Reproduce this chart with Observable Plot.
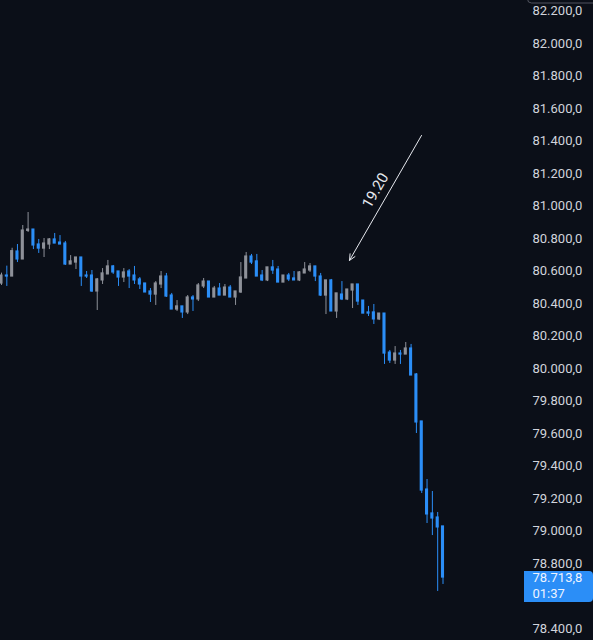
<!DOCTYPE html>
<html>
<head>
<meta charset="utf-8">
<script src="https://cdn.jsdelivr.net/npm/d3@7"></script>
<script src="https://cdn.jsdelivr.net/npm/@observablehq/plot@0.6"></script>
<style>
  html, body { margin: 0; padding: 0; background: #0b0f18; overflow: hidden; }
  #chart svg { display: block; }
</style>
</head>
<body>
<div id="chart"></div>
<script>
// ---- data ----
const open  = [80523,80572,80566,80720,80671,80847,80855,80763,80738,80763,80794,80775,80769,80640,80652,80683,80572,80572,80474,80542,80579,80628,80597,80560,80597,80572,80548,80523,80474,80455,80517,80566,80449,80363,80382,80345,80437,80425,80505,80535,80437,80492,80449,80498,80437,80468,80554,80689,80659,80572,80542,80622,80609,80529,80572,80554,80542,80585,80603,80628,80566,80449,80542,80351,80455,80425,80480,80517,80418,80345,80345,80302,80338,80098,80049,80092,80086,80123,79963,79674,79255,79108,79083,79028];
const high  = [80587,80630,80740,80763,80880,80960,80855,80794,80800,80800,80831,80818,80782,80695,80683,80683,80597,80603,80554,80615,80665,80634,80597,80615,80609,80628,80560,80523,80492,80535,80597,80585,80462,80418,80382,80449,80449,80523,80554,80535,80505,80523,80517,80511,80474,80652,80714,80702,80702,80603,80622,80665,80628,80572,80585,80597,80597,80652,80646,80628,80585,80542,80548,80462,80535,80486,80517,80517,80418,80382,80394,80338,80338,80111,80135,80111,80160,80148,79969,79674,79317,79243,79114,79028];
const low   = [80511,80505,80566,80652,80671,80837,80732,80708,80683,80732,80769,80763,80634,80640,80609,80505,80554,80468,80357,80517,80579,80579,80505,80529,80492,80517,80486,80468,80406,80388,80492,80437,80363,80351,80308,80332,80351,80412,80492,80437,80437,80449,80449,80437,80388,80462,80554,80640,80566,80535,80535,80579,80529,80529,80535,80542,80535,80585,80591,80535,80443,80332,80351,80308,80418,80418,80369,80388,80338,80320,80271,80295,80025,80031,80025,80025,80086,79957,79600,79231,79046,78972,78628,78671];
const close = [80572,80566,80722,80671,80849,80855,80757,80738,80769,80794,80769,80763,80640,80659,80683,80566,80566,80474,80548,80585,80628,80591,80560,80591,80566,80542,80517,80468,80455,80523,80566,80443,80363,80382,80345,80437,80425,80511,80535,80437,80492,80449,80498,80437,80474,80560,80689,80652,80566,80542,80622,80603,80529,80572,80548,80542,80591,80609,80628,80566,80449,80542,80351,80462,80425,80486,80517,80412,80338,80338,80302,80338,80092,80049,80092,80086,80123,79957,79668,79249,79102,79077,79022,78713.8];

const tickValues = [78400,78800,79000,79200,79400,79600,79800,80000,80200,80400,80600,80800,81000,81200,81400,81600,81800,82000,82200];
const lastLabel = "78.713,8";
const countdown = "01:37";

// annotation (bar index / price)
const arrowFrom = {i: 79.96, v: 81434};
const arrowTo   = {i: 66.42, v: 80665};
const measureText = {i: 71.3, v: 81095, label: "19.20"};

// ---- build ----
const UP = "#8e9199", DOWN = "#2b8ef7", BG = "#0b0f18", TXT = "#d1d4dc";
const bars = open.map((o, k) => ({i: k + 1, o, h: high[k], l: low[k], c: close[k], up: close[k] >= o}));

const loc = d3.formatLocale({decimal: ",", thousands: ".", grouping: [3], currency: ["", ""]});
const fmt = loc.format(",.1f");

const plot = Plot.plot({
  width: 593,
  height: 640,
  marginTop: 0, marginBottom: 0, marginLeft: 0, marginRight: 70,
  style: {background: BG, color: TXT, fontFamily: "Roboto, sans-serif", fontSize: "13px"},
  x: {type: "linear", domain: [1, bars.length], range: [1, 442.5], axis: null},
  y: {domain: [78400, 82000], range: [628, 43], axis: null},
  marks: [
    Plot.axisY({anchor: "right", ticks: tickValues, tickFormat: fmt, tickSize: 0, tickPadding: 9, fill: TXT, fontSize: 13, label: null}),
    Plot.ruleX(bars, {x: "i", y1: "l", y2: "h", stroke: d => d.up ? UP : DOWN, strokeWidth: 1}),
    Plot.rect(bars, {
      x1: d => d.i - 0.29, x2: d => d.i + 0.29,
      y1: d => Math.min(d.o, d.c), y2: d => Math.max(d.o, d.c),
      fill: d => d.up ? UP : DOWN, insetTop: -0.6, insetBottom: -0.6
    }),
    Plot.arrow([0], {
      x1: () => arrowFrom.i, y1: () => arrowFrom.v, x2: () => arrowTo.i, y2: () => arrowTo.v,
      stroke: "#e6e8ee", strokeWidth: 1, headLength: 10, headAngle: 50, bend: 0
    }),
    Plot.text([measureText], {x: "i", y: "v", text: "label", rotate: -60, fill: "#e6e8ee", fontSize: 15, fontFamily: "Roboto, sans-serif"})
  ]
});

// price label on the axis, placed from the last close via the y scale
const ys = plot.scale("y");
const yLast = ys.apply(close[close.length - 1]);
const svg = d3.select(plot);
const g = svg.append("g").attr("text-anchor", "start");
g.append("path")
  .attr("d", `M524,${yLast - 6} H589 a4,4 0 0 1 4,4 V${yLast + 21} a4,4 0 0 1 -4,4 H524 Z`)
  .attr("fill", DOWN);
g.append("text").attr("x", 532.5).attr("y", yLast + 4.5).attr("text-anchor", "start")
  .attr("fill", "#eef4ff").attr("font-family", "Roboto, sans-serif").attr("font-size", 13).text(lastLabel);
g.append("text").attr("x", 532.5).attr("y", yLast + 20.5).attr("text-anchor", "start")
  .attr("fill", "#eef4ff").attr("font-family", "Roboto, sans-serif").attr("font-size", 13).text(countdown);
// top-right control outline
g.append("rect").attr("x", 527.5).attr("y", -20).attr("width", 80).attr("height", 23)
  .attr("rx", 4).attr("fill", "none").attr("stroke", "#50535e").attr("stroke-width", 1);

document.getElementById("chart").append(plot);
</script>
</body>
</html>
